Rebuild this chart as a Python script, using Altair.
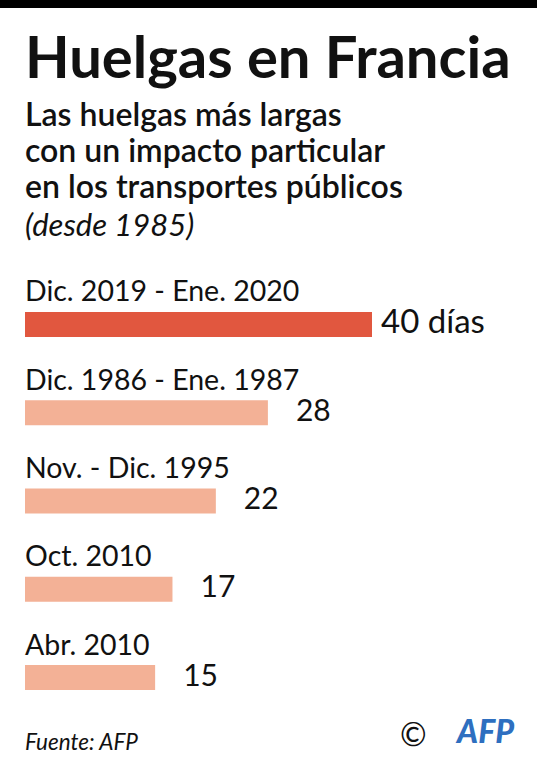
import altair as alt
import pandas as pd

# Longest strikes affecting public transport in France (days)
periodos = ["Dic. 2019 - Ene. 2020", "Dic. 1986 - Ene. 1987", "Nov. - Dic. 1995", "Oct. 2010", "Abr. 2010"]
dias = [40, 28, 22, 17, 15]
etiquetas = ["40 días", "28", "22", "17", "15"]
destacado = [True, False, False, False, False]

titulo = "Huelgas en Francia"
subtitulo = ["Las huelgas más largas", "con un impacto particular", "en los transportes públicos"]
nota = "(desde 1985)"
fuente = "Fuente: AFP"

FONT = "Lato"
ROJO = "#e1573f"
SALMON = "#f3b196"
AZUL = "#2e6fc0"

df = pd.DataFrame({"periodo": periodos, "dias": dias, "etiqueta": etiquetas, "destacado": destacado})

x = alt.X("dias:Q", scale=alt.Scale(domain=[0, 40], range=[25, 372]), axis=None)
y = alt.Y("periodo:N", sort=periodos,
          scale=alt.Scale(range=[312, 690], paddingInner=0.717, paddingOuter=0), axis=None)

base = alt.Chart(df)

bars = base.mark_bar().encode(
    x=x, y=y,
    color=alt.condition("datum.destacado", alt.value(ROJO), alt.value(SALMON)),
)

cat_labels = base.mark_text(align="left", baseline="alphabetic", dy=-23, font=FONT,
                            fontSize=28.5, color="#111").encode(
    x=alt.value(25), y=y, text="periodo:N")

val_main = base.transform_filter("datum.destacado").mark_text(
    align="left", baseline="alphabetic", dx=9, dy=9, font=FONT, fontSize=33, color="#111"
).encode(x=x, y=y, text="etiqueta:N")

val_rest = base.transform_filter("!datum.destacado").mark_text(
    align="left", baseline="alphabetic", dx=28, dy=8, font=FONT, fontSize=30, color="#111"
).encode(x=x, y=y, text="etiqueta:N")


def texto(t, px, py, size, weight="normal", style="normal", color="#111", align="left"):
    return alt.Chart(pd.DataFrame({"t": [t]})).mark_text(
        align=align, baseline="alphabetic", font=FONT, fontSize=size,
        fontWeight=weight, fontStyle=style, color=color
    ).encode(x=alt.value(px), y=alt.value(py), text="t:N")


top_bar = alt.Chart(pd.DataFrame({"a": [0]})).mark_rect(color="#000").encode(
    x=alt.value(0), x2=alt.value(537), y=alt.value(0), y2=alt.value(8))

layers = [
    top_bar,
    texto(titulo, 25, 78, 58, weight="bold"),
    texto(subtitulo[0], 25, 126, 32, weight=600),
    texto(subtitulo[1], 25, 162, 32, weight=600),
    texto(subtitulo[2], 25, 198, 32, weight=600),
    texto(nota, 25, 236, 31, style="italic"),
    bars, cat_labels, val_main, val_rest,
    texto(fuente, 25, 750, 22.5, style="italic"),
    texto("©", 400, 746, 32),
    texto("AFP", 514, 743, 32, weight=900, style="italic", color=AZUL, align="right"),
]

chart = alt.layer(*layers).properties(
    width=537, height=768, padding=0,
    autosize=alt.AutoSizeParams(type="none"),
    background="white",
).configure_view(stroke=None)

chart.save("out.html", embed_options={"renderer": "svg", "actions": False})
